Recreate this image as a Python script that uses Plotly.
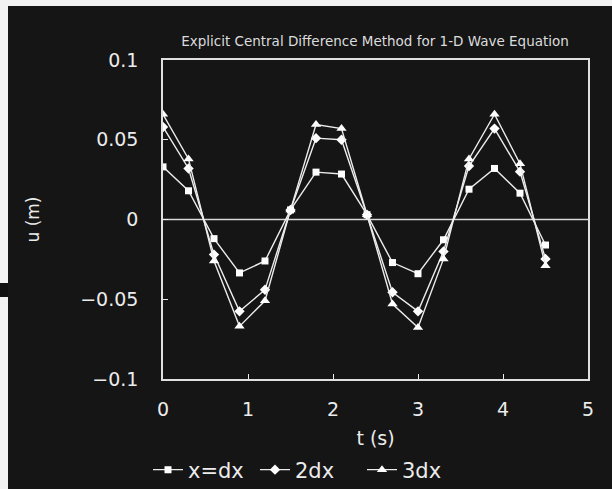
import plotly.graph_objects as go

# Time samples (s)
t = [0.0, 0.3, 0.6, 0.9, 1.2, 1.5, 1.8, 2.1, 2.4, 2.7, 3.0, 3.3, 3.6, 3.9, 4.2, 4.5]

# Displacement u (m) at three grid positions
u_dx = [0.033, 0.018, -0.012, -0.0335, -0.026, 0.006, 0.0297, 0.0285,
        0.003, -0.027, -0.034, -0.0127, 0.019, 0.032, 0.0165, -0.016]
u_2dx = [0.058, 0.032, -0.022, -0.0576, -0.044, 0.006, 0.051, 0.050,
         0.003, -0.0456, -0.0576, -0.020, 0.0335, 0.057, 0.030, -0.0247]
u_3dx = [0.066, 0.038, -0.026, -0.067, -0.051, 0.006, 0.0595, 0.057,
         0.003, -0.053, -0.0677, -0.0247, 0.038, 0.066, 0.035, -0.029]

series_names = ["x=dx", "2dx", "3dx"]
x_ticks = [0, 1, 2, 3, 4, 5]
y_ticks = [-0.1, -0.05, 0, 0.05, 0.1]
y_tick_text = ["\u22120.1", "\u22120.05", "0", "0.05", "0.1"]

FG = "#ececec"
BG = "#151515"
FONT = "DejaVu Sans, sans-serif"
FIG_W, FIG_H = 612, 489

fig = go.Figure()
for name, u, sym, size in zip(series_names, [u_dx, u_2dx, u_3dx],
                              ["square", "diamond", "triangle-up"], [7, 8, 9]):
    fig.add_trace(go.Scatter(
        x=t, y=u, name=name, mode="lines+markers",
        line=dict(color=FG, width=1.4),
        marker=dict(symbol=sym, size=size, color="white",
                    line=dict(width=0)),
    ))

# Zero reference line across the plot
fig.add_shape(type="line", xref="paper", yref="y", x0=0, x1=1, y0=0, y1=0,
              line=dict(color="#d8d8d8", width=1.5), layer="below")

# Light page edges around the dark panel (positions in paper units)
L, R, T, B = 163, 24, 60, 110
W = FIG_W - L - R
H = FIG_H - T - B
def px_x(p):
    return (p - L) / W
def px_y(p):
    return (FIG_H - B - p) / H
fig.add_shape(type="rect", xref="paper", yref="paper",
              x0=px_x(-2), x1=px_x(8), y0=px_y(491), y1=px_y(-2),
              fillcolor="#f2f2f2", line=dict(width=0), layer="above")
fig.add_shape(type="rect", xref="paper", yref="paper",
              x0=px_x(-2), x1=px_x(8), y0=px_y(297), y1=px_y(283),
              fillcolor="#101010", line=dict(width=0), layer="above")
fig.add_shape(type="rect", xref="paper", yref="paper",
              x0=px_x(-2), x1=px_x(614), y0=px_y(6), y1=px_y(-2),
              fillcolor="#f2f2f2", line=dict(width=0), layer="above")

fig.update_layout(
    width=FIG_W, height=FIG_H,
    margin=dict(l=L, r=R, t=T, b=B),
    paper_bgcolor=BG, plot_bgcolor=BG,
    font=dict(family=FONT, color=FG, size=18),
    title=dict(text="Explicit Central Difference Method for 1-D Wave Equation",
               x=px_x(375), xref="paper", xanchor="center",
               y=1 - 41 / FIG_H, yanchor="middle",
               font=dict(family=FONT, size=13.5, color="#dcdcdc")),
    showlegend=True,
    legend=dict(orientation="h", xref="container", x=148 / FIG_W, xanchor="left",
                yref="container", y=1 - 470 / FIG_H, yanchor="middle",
                bgcolor="rgba(0,0,0,0)", font=dict(size=21, color=FG),
                itemwidth=30, entrywidth=62, entrywidthmode="pixels",
                traceorder="normal"),
    xaxis=dict(range=[0, 5], tickvals=x_ticks, ticks="inside", ticklen=5,
               tickcolor=FG, showgrid=False, zeroline=False, automargin=False,
               showline=True, mirror=True, linecolor="#e0e0e0", linewidth=1.5,
               title=dict(text="t (s)", standoff=38, font=dict(size=19)),
               tickfont=dict(size=19), ticklabelstandoff=12),
    yaxis=dict(range=[-0.1, 0.1], tickvals=y_ticks, ticktext=y_tick_text,
               ticks="inside", ticklen=5, tickcolor=FG, automargin=False,
               showgrid=False, zeroline=False,
               showline=True, mirror=True, linecolor="#e0e0e0", linewidth=1.5,
               title=dict(text="u (m)", standoff=36, font=dict(size=17)),
               tickfont=dict(size=19), ticklabelstandoff=19),
)

fig.write_html("out.html")
